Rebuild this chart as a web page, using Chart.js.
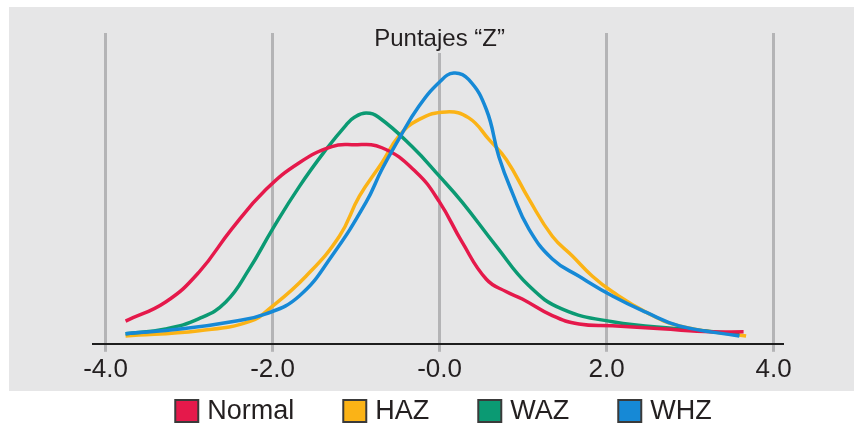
<!DOCTYPE html>
<html>
<head>
<meta charset="utf-8">
<script src="https://cdn.jsdelivr.net/npm/chart.js@4"></script>
<style>
  body { margin: 0; background: #fff; }
  #wrap { width: 854px; height: 426px; position: relative; }
</style>
</head>
<body>
<div id="wrap"><canvas id="densityChart"></canvas></div>
<script>
// valores (densidad aproximada)
var seriesNames = ['Normal', 'HAZ', 'WAZ', 'WHZ'];
var seriesColors = ['#e5194b', '#fbb316', '#0b9a73', '#1689d6'];

var normalX = [-3.76, -3.28, -2.88, -2.49, -2.08, -1.68, -1.29, -1.05, -0.69, -0.28, 0, 0.27, 0.56, 0.80, 0.99, 1.35, 1.67, 2.07, 2.66, 3.26, 3.64];
var normalY = [0.038, 0.070, 0.120, 0.192, 0.258, 0.303, 0.330, 0.333, 0.328, 0.287, 0.237, 0.170, 0.108, 0.087, 0.075, 0.047, 0.033, 0.030, 0.025, 0.020, 0.020];

var hazX = [-3.76, -2.88, -2.28, -2.00, -1.60, -1.20, -0.96, -0.69, -0.49, -0.25, 0.08, 0.35, 0.59, 0.80, 1.07, 1.35, 1.59, 1.83, 2.07, 2.47, 2.87, 3.67];
var hazY = [0.013, 0.022, 0.037, 0.063, 0.113, 0.180, 0.247, 0.303, 0.347, 0.375, 0.388, 0.378, 0.342, 0.308, 0.242, 0.180, 0.147, 0.113, 0.087, 0.053, 0.030, 0.013];

var wazX = [-3.76, -3.28, -2.88, -2.56, -2.28, -2.00, -1.68, -1.36, -1.12, -1.02, -0.88, -0.73, -0.33, 0, 0.27, 0.68, 1.07, 1.47, 2.07, 2.87, 3.59];
var wazY = [0.017, 0.025, 0.042, 0.070, 0.125, 0.192, 0.263, 0.325, 0.366, 0.379, 0.386, 0.379, 0.330, 0.280, 0.237, 0.163, 0.097, 0.058, 0.037, 0.025, 0.017];

var whzX = [-3.76, -3.08, -2.49, -2.08, -1.68, -1.29, -0.88, -0.69, -0.49, -0.25, 0, 0.17, 0.35, 0.56, 0.71, 0.87, 1.07, 1.35, 1.67, 2.07, 2.47, 2.87, 3.59];
var whzY = [0.017, 0.025, 0.037, 0.050, 0.080, 0.147, 0.237, 0.292, 0.342, 0.397, 0.438, 0.453, 0.442, 0.392, 0.313, 0.253, 0.192, 0.142, 0.113, 0.080, 0.053, 0.030, 0.013];

var tickValues = [-4, -2, 0, 2, 4];
var tickLabels = ['-4.0', '-2.0', '-0.0', '2.0', '4.0'];
var chartTitle = 'Puntajes \u201CZ\u201D';

function toPoints(xs, ys) {
    return xs.map(function (x, i) { return { x: x, y: ys[i] }; });
}

var allX = [normalX, hazX, wazX, whzX];
var allY = [normalY, hazY, wazY, whzY];
var drawOrder = [1, 3, 2, 0]; // azul encima

var textColor = '#231f20';
var fontFam = '"Liberation Sans", Arial, Helvetica, sans-serif';

// fondo gris + titulo
var panelPlugin = {
    id: 'panel',
    beforeDraw: function (chart) {
        var c = chart.ctx;
        c.save();
        c.fillStyle = '#ffffff';
        c.fillRect(0, 0, chart.width, chart.height);
        c.fillStyle = '#e6e6e7';
        c.fillRect(9, 7, chart.width - 9, 384);
        c.restore();
    },
    beforeDatasetsDraw: function (chart) {
        var c = chart.ctx;
        c.save();
        c.font = '24px ' + fontFam;
        c.textAlign = 'center';
        c.textBaseline = 'alphabetic';
        var w = c.measureText(chartTitle).width;
        var cx = chart.scales.x.getPixelForValue(0);
        c.fillStyle = '#e6e6e7';
        c.fillRect(cx - w / 2 - 4, chart.chartArea.top - 2, w + 8, 22);
        c.fillStyle = textColor;
        c.fillText(chartTitle, cx, 46);
        c.restore();
    }
};

// leyenda dibujada a mano para respetar el espaciado
var legendPlugin = {
    id: 'customLegend',
    afterDraw: function (chart) {
        var c = chart.ctx;
        var boxW = 23, boxH = 22, gapText = 9, gapItem = 49;
        c.save();
        c.font = '27px ' + fontFam;
        var widths = seriesNames.map(function (n) { return boxW + gapText + c.measureText(n).width; });
        var total = widths.reduce(function (a, b) { return a + b; }, 0) + gapItem * (widths.length - 1);
        var x = 443.5 - total / 2;
        var yMid = 411;
        chart.data.datasets.forEach(function (ds, i) {
            c.fillStyle = ds.borderColor;
            c.fillRect(x, yMid - boxH / 2, boxW, boxH);
            c.strokeStyle = '#3a3a3a';
            c.lineWidth = 2;
            c.strokeRect(x, yMid - boxH / 2, boxW, boxH);
            c.fillStyle = textColor;
            c.textBaseline = 'middle';
            c.textAlign = 'left';
            c.fillText(ds.label, x + boxW + gapText, yMid + 1);
            x += widths[i] + gapItem;
        });
        c.restore();
    }
};

var ctx = document.getElementById('densityChart').getContext('2d');
var densityChart = new Chart(ctx, {
    type: 'line',
    data: {
        datasets: seriesNames.map(function (name, i) {
            return {
                label: name,
                data: toPoints(allX[i], allY[i]),
                borderColor: seriesColors[i],
                backgroundColor: seriesColors[i],
                borderWidth: 3.5,
                pointRadius: 0,
                tension: 0.45,
                fill: false,
                order: drawOrder[i]
            };
        })
    },
    options: {
        responsive: true,
        maintainAspectRatio: false,
        animation: false,
        layout: { padding: { left: 93, right: 72, top: 33, bottom: 39 } },
        plugins: {
            legend: { display: false },
            title: { display: false },
            tooltip: { enabled: false }
        },
        scales: {
            x: {
                type: 'linear',
                min: -4.15,
                max: 4.1,
                afterBuildTicks: function (axis) {
                    axis.ticks = tickValues.map(function (v) { return { value: v }; });
                },
                ticks: {
                    callback: function (value) {
                        return tickLabels[tickValues.indexOf(value)];
                    },
                    color: textColor,
                    font: { size: 26, family: fontFam },
                    padding: 2,
                    maxRotation: 0
                },
                grid: {
                    color: '#b4b4b6',
                    lineWidth: 3,
                    tickLength: 8,
                    tickColor: '#b4b4b6'
                },
                border: { display: true, color: '#1e1e1e', width: 2 }
            },
            y: {
                display: false,
                min: 0,
                max: 0.52
            }
        }
    },
    plugins: [panelPlugin, legendPlugin]
});
</script>
</body>
</html>
